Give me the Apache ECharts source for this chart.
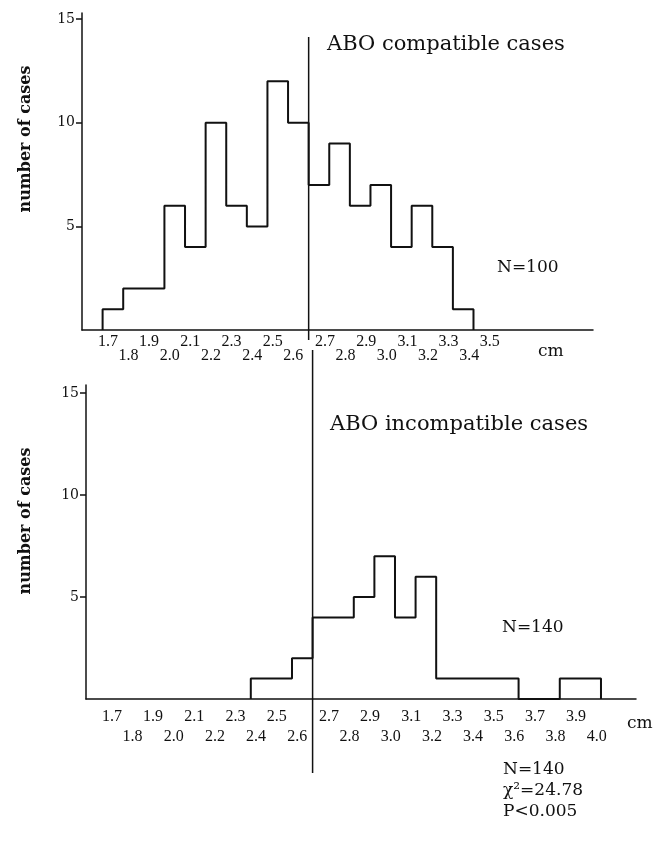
<!DOCTYPE html>
<html><head><meta charset="utf-8">
<script src="https://cdn.jsdelivr.net/npm/echarts@6/dist/echarts.min.js"></script>
<style>html,body{margin:0;padding:0;background:#fff}#c{width:655px;height:843px}</style>
</head><body><div id="c"></div>
<script>
// ---- data ----
const topBins = [1.7,1.8,1.9,2.0,2.1,2.2,2.3,2.4,2.5,2.6,2.7,2.8,2.9,3.0,3.1,3.2,3.3,3.4];
const topCounts = [1,2,2,6,4,10,6,5,12,10,7,9,6,7,4,6,4,1];
const bottomBins = [2.4,2.5,2.6,2.7,2.8,2.9,3.0,3.1,3.2,3.3,3.4,3.5,3.6,3.7,3.8,3.9,4.0];
const bottomCounts = [1,1,2,4,4,5,7,4,6,1,1,1,1,0,0,1,1];
const topOddLabels = [1.7,1.9,2.1,2.3,2.5,2.7,2.9,3.1,3.3,3.5];
const topEvenLabels = [1.8,2.0,2.2,2.4,2.6,2.8,3.0,3.2,3.4];
const bottomOddLabels = [1.7,1.9,2.1,2.3,2.5,2.7,2.9,3.1,3.3,3.5,3.7,3.9];
const bottomEvenLabels = [1.8,2.0,2.2,2.4,2.6,2.8,3.0,3.2,3.4,3.6,3.8,4.0];
const yTicks = [5,10,15];
const dividerValue = 2.65;

const INK = '#111';
const SERIF = 'DejaVu Serif';

function stepData(bins, counts) {
  const half = 0.05;
  const d = [[+(bins[0] - half).toFixed(2), 0]];
  bins.forEach((b, i) => d.push([+(b - half).toFixed(2), counts[i]]));
  d.push([+(bins[bins.length - 1] + half).toFixed(2), 0]);
  return d;
}

function xAx(gridIndex, max, values, margin, showLine) {
  return {
    type: 'value', gridIndex, min: 1.55, max, position: 'bottom',
    axisLine: { show: showLine, onZero: false, lineStyle: { color: INK, width: 1.5 } },
    axisTick: { show: false }, splitLine: { show: false },
    axisLabel: { customValues: values,
      formatter: v => (v < dividerValue ? '{l|' : '{r|') + v.toFixed(1) + '}',
      margin, color: INK, fontFamily: 'Liberation Serif', fontSize: 16,
      rich: {
        l: { padding: [0, 10, 0, 0], fontFamily: 'Liberation Serif', fontSize: 16, color: INK },
        r: { padding: [0, 0, 0, 12], fontFamily: 'Liberation Serif', fontSize: 16, color: INK }
      } }
  };
}
function yAx(gridIndex, max) {
  return {
    type: 'value', gridIndex, min: 0, max,
    axisLine: { show: true, lineStyle: { color: INK, width: 1.5 } },
    axisTick: { show: true, customValues: yTicks, length: 6, lineStyle: { color: INK, width: 1.5 } },
    axisLabel: { customValues: yTicks, margin: 7, color: INK, fontFamily: SERIF, fontSize: 14 },
    splitLine: { show: false }
  };
}
function hidAx(gridIndex, min, max) {
  return { type: 'value', gridIndex, min, max, show: false };
}
function txt(x, y, text, size, extra) {
  return Object.assign({ type: 'text', x, y, style: { text, fill: INK, font: size + 'px "' + SERIF + '"',
    align: 'left', verticalAlign: 'middle' } }, extra || {});
}

const chart = echarts.init(document.getElementById('c'), null, { renderer: 'canvas' });
chart.setOption({
  animation: false,
  backgroundColor: '#fff',
  grid: [
    { left: 82, top: 13, width: 511, height: 317 },
    { left: 86, top: 385, width: 550, height: 314 },
    { left: 82, top: 37, width: 511, height: 303 },
    { left: 86, top: 350, width: 550, height: 423 }
  ],
  xAxis: [
    xAx(0, 4.03, topOddLabels, 4, true),
    xAx(0, 4.03, topEvenLabels, 18, false),
    xAx(1, 4.22, bottomOddLabels, 10, true),
    xAx(1, 4.22, bottomEvenLabels, 30, false),
    hidAx(2, 1.55, 4.03),
    hidAx(3, 1.55, 4.22)
  ],
  yAxis: [ yAx(0, 15.3), yAx(1, 15.4), hidAx(2, 0, 1), hidAx(3, 0, 1) ],
  series: [
    { type: 'line', xAxisIndex: 0, yAxisIndex: 0, step: 'end', symbol: 'none', clip: false,
      data: stepData(topBins, topCounts), lineStyle: { color: INK, width: 2 } },
    { type: 'line', xAxisIndex: 2, yAxisIndex: 1, step: 'end', symbol: 'none', clip: false,
      data: stepData(bottomBins, bottomCounts), lineStyle: { color: INK, width: 2 } },
    { type: 'line', xAxisIndex: 4, yAxisIndex: 2, symbol: 'none',
      data: [[dividerValue, 0], [dividerValue, 1]], lineStyle: { color: INK, width: 1.5 } },
    { type: 'line', xAxisIndex: 5, yAxisIndex: 3, symbol: 'none',
      data: [[dividerValue, 0], [dividerValue, 1]], lineStyle: { color: INK, width: 1.5 } }
  ],
  graphic: [
    { type: 'text', x: 26, y: 139, rotation: Math.PI / 2,
      style: { text: 'number of cases', fill: INK, font: 'bold 16px "' + SERIF + '"', align: 'center', verticalAlign: 'middle' } },
    { type: 'text', x: 26, y: 521, rotation: Math.PI / 2,
      style: { text: 'number of cases', fill: INK, font: 'bold 16px "' + SERIF + '"', align: 'center', verticalAlign: 'middle' } },
    txt(327, 45, 'ABO compatible cases', 21),
    txt(330, 425, 'ABO incompatible cases', 21),
    txt(497, 268, 'N=100', 17),
    txt(502, 628, 'N=140', 17),
    txt(538, 352, 'cm', 17),
    txt(627, 724, 'cm', 17),
    txt(503, 770, 'N=140', 17),
    txt(503, 791, 'χ²=24.78', 17),
    txt(503, 812, 'P<0.005', 17)
  ]
});
</script></body></html>
